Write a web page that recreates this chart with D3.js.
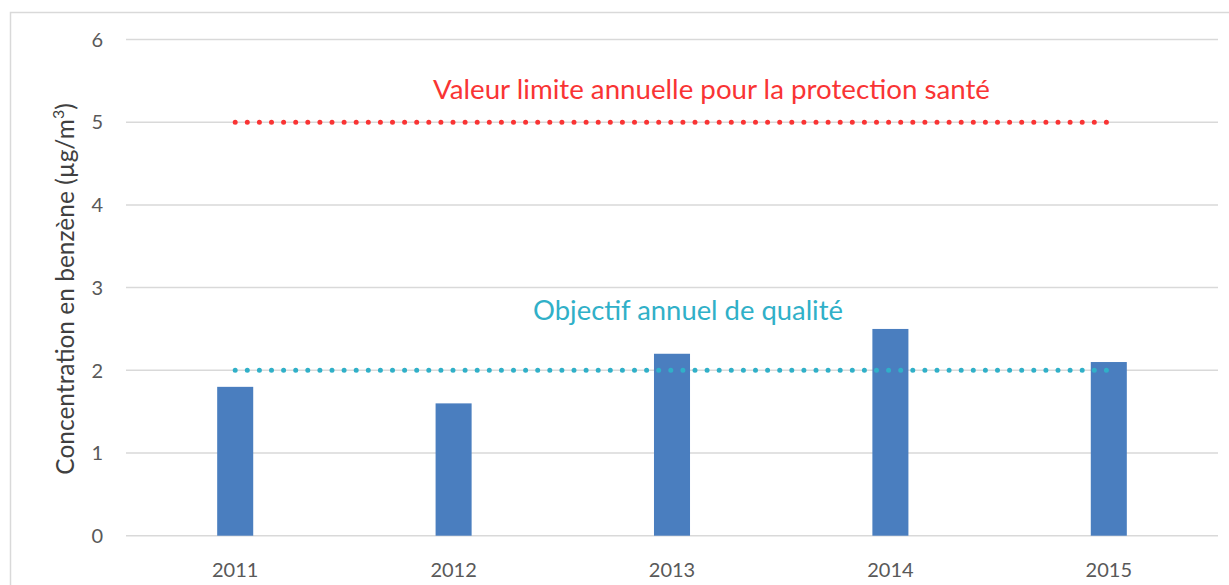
<!DOCTYPE html>
<html><head><meta charset="utf-8">
<script src="https://cdn.jsdelivr.net/npm/d3@7"></script>
<style>
html,body{margin:0;padding:0;background:#fff;}
svg{display:block;font-family:Lato,"Open Sans",sans-serif;}
</style></head>
<body><svg id="c" width="1229" height="585"></svg>
<script>
const years = ["2011","2012","2013","2014","2015"];
const concentrations = [1.8, 1.6, 2.2, 2.5, 2.1];
const yTicks = [0,1,2,3,4,5,6];
const limitValue = 5;
const objectiveValue = 2;
const limitLabel = "Valeur limite annuelle pour la protection santé";
const objectiveLabel = "Objectif annuel de qualité";
const yTitle = "Concentration en benzène (µg/m";

const svg = d3.select("#c");
const plotLeft = 126, plotRight = 1218, plotTop = 39.5, plotBottom = 535.7;
const x = d3.scaleBand().domain(years).range([plotLeft, plotRight]).paddingInner(0.835).paddingOuter(0.4175);
const y = d3.scaleLinear().domain([0, 6]).range([plotBottom, plotTop]);

svg.append("rect").attr("x", 10.5).attr("y", 12.5).attr("width", 1240).attr("height", 600)
  .attr("fill", "none").attr("stroke", "#d9d9d9").attr("stroke-width", 1.5);

// gridlines
svg.append("g").selectAll("line").data(yTicks).join("line")
  .attr("x1", plotLeft).attr("x2", plotRight)
  .attr("y1", d => y(d)).attr("y2", d => y(d))
  .attr("stroke", "#d9d9d9").attr("stroke-width", 1.5);

// y tick labels
svg.append("g").selectAll("text").data(yTicks).join("text")
  .attr("x", 103).attr("y", d => y(d)).attr("dy", "0.36em")
  .attr("text-anchor", "end").attr("font-size", 20).attr("fill", "#595959")
  .text(d => d);

// x labels
svg.append("g").selectAll("text").data(years).join("text")
  .attr("x", d => x(d) + x.bandwidth()/2).attr("y", 577)
  .attr("text-anchor", "middle").attr("font-size", 20).attr("fill", "#595959")
  .text(d => d);

// bars
svg.append("g").selectAll("rect").data(concentrations).join("rect")
  .attr("x", (d,i) => x(years[i])).attr("width", x.bandwidth())
  .attr("y", d => y(d)).attr("height", d => y(0) - y(d))
  .attr("fill", "#4a7ebf");

// dotted reference lines
const cx0 = x(years[0]) + x.bandwidth()/2, cx1 = x(years[years.length-1]) + x.bandwidth()/2;
function dotted(v, color) {
  svg.append("line").attr("x1", cx0).attr("x2", cx1 + 1).attr("y1", y(v)).attr("y2", y(v))
    .attr("stroke", color).attr("stroke-width", 5).attr("stroke-linecap", "round")
    .attr("stroke-dasharray", "0 12.1");
}
dotted(limitValue, "#f93434");
dotted(objectiveValue, "#30b0c8");

svg.append("text").attr("x", 711.5).attr("y", 99).attr("text-anchor", "middle")
  .attr("font-size", 27.7).attr("fill", "#f93434").text(limitLabel);
svg.append("text").attr("x", 688).attr("y", 320).attr("text-anchor", "middle")
  .attr("font-size", 27.4).attr("fill", "#30b0c8").text(objectiveLabel);

// y title
const t = svg.append("text").attr("transform", "translate(74,289) rotate(-90)")
  .attr("text-anchor", "middle").attr("font-size", 24.5).attr("fill", "#404040");
t.append("tspan").text(yTitle);
t.append("tspan").attr("font-size", 16).attr("dy", -10).text("3");
t.append("tspan").attr("dy", 10).text(")");
</script></body></html>
